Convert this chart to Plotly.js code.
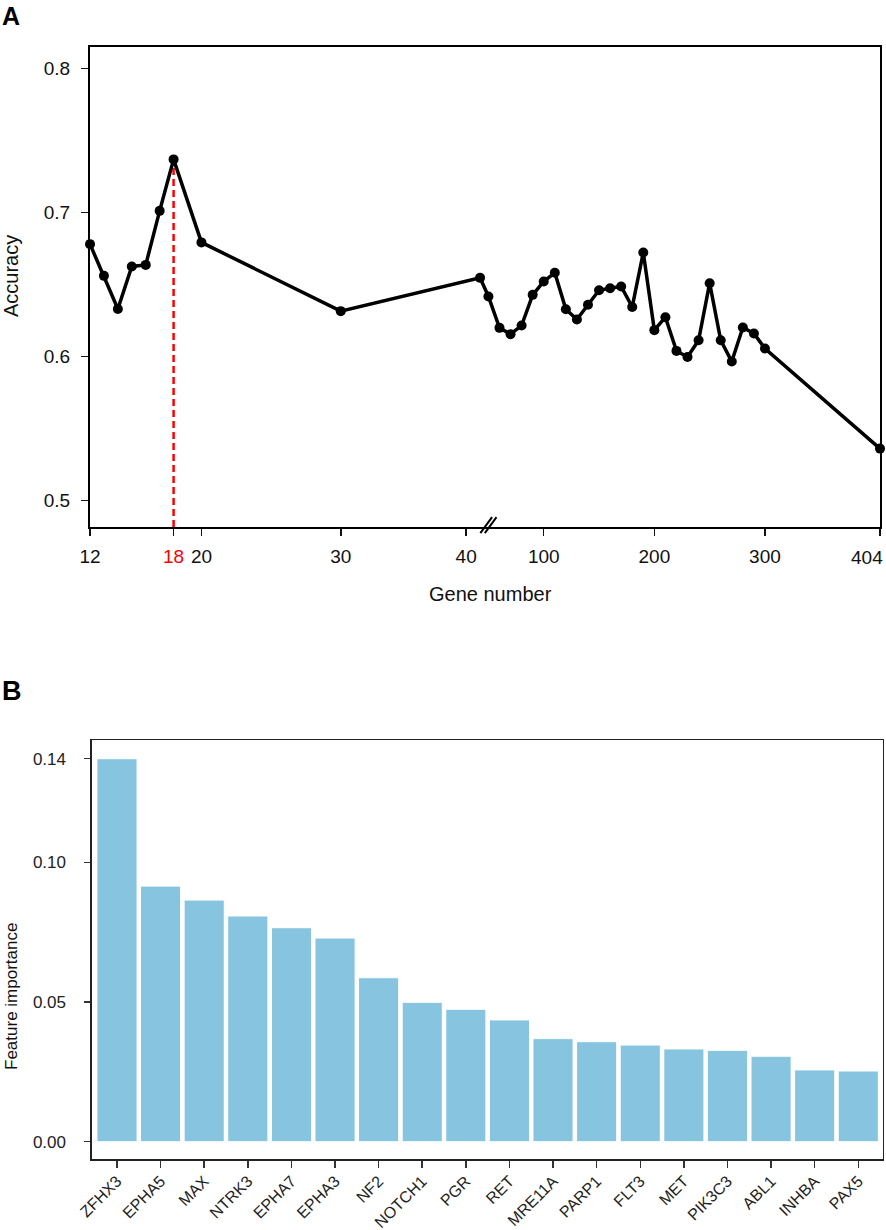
<!DOCTYPE html>
<html>
<head>
<meta charset="utf-8">
<script src="https://cdn.plot.ly/plotly-3.0.1.min.js"></script>
<style>
  html, body { margin: 0; padding: 0; background: #fff; }
  #chart { width: 886px; height: 1230px; }
</style>
</head>
<body>
<div id="chart"></div>
<script>
// Panel A: accuracy for each number of genes kept
const geneCounts = [12, 13, 14, 15, 16, 17, 18, 20, 30, 40,
    50, 60, 70, 80, 90, 100, 110, 120, 130, 140, 150, 160, 170, 180, 190,
    200, 210, 220, 230, 240, 250, 260, 270, 280, 290, 300, 404];
const accuracy = [0.678, 0.656, 0.633, 0.6625, 0.6636, 0.7011, 0.7368, 0.6792, 0.6315, 0.6546,
    0.6417, 0.6199, 0.6155, 0.6215, 0.6428, 0.6521, 0.6581, 0.6328, 0.6257, 0.6359, 0.646, 0.6474, 0.6486, 0.6344, 0.6722,
    0.6183, 0.6273, 0.6039, 0.5997, 0.6113, 0.6509, 0.6113, 0.5965, 0.6201, 0.616, 0.6056, 0.5361];
const bestCount = 18;
const accTicks = [0.5, 0.6, 0.7, 0.8];
const geneTicks = [12, 18, 20, 30, 40, 100, 200, 300, 404];

// Panel B: feature importance of the selected genes
const genes = ["ZFHX3", "EPHA5", "MAX", "NTRK3", "EPHA7", "EPHA3", "NF2", "NOTCH1", "PGR",
    "RET", "MRE11A", "PARP1", "FLT3", "MET", "PIK3C3", "ABL1", "INHBA", "PAX5"];
const importance = [0.1371, 0.0915, 0.0865, 0.0808, 0.0766, 0.0729, 0.0587, 0.0499, 0.0474,
    0.0436, 0.0369, 0.0358, 0.0346, 0.0332, 0.0327, 0.0306, 0.0257, 0.0253];
const impTicks = [0, 0.05, 0.10, Math.max(...importance)];

// Broken x axis: linear up to 40, then a squeezed linear segment from 50 on.
const BREAK_LO = 40, BREAK_HI = 50;
const BREAK_AT = 40.6;
const SQUEEZE = 0.0794;
const axisPos = g => g <= BREAK_LO ? g : BREAK_AT + (g - BREAK_HI) * SQUEEZE;

const W = 886, H = 1230;
const FONT = "Liberation Sans, Arial, sans-serif";
const xRangeA = [12, axisPos(404)];
const yRangeA = [0.4817, 0.8146];
const lastCount = geneCounts[geneCounts.length - 1];

// the original draws its "40" tick one unit left of the 40 point;
// the last label sits against the page edge, so it is an annotation below
const tickPos = geneTicks.map(g => g === 40 ? 39 : axisPos(g));
const tickText = geneTicks.map(g => {
    if (g === bestCount) return `<span style="color:#ff0000">${g}</span>`;
    if (g === lastCount) return "";
    return String(g);
});

const bestAcc = accuracy[geneCounts.indexOf(bestCount)];

const traces = [{
    type: "scatter", mode: "lines",
    x: [axisPos(bestCount), axisPos(bestCount)],
    y: [yRangeA[0], bestAcc],
    line: { color: "#ff0000", width: 2.5, dash: "7px,4px" },
    xaxis: "x", yaxis: "y",
}, {
    type: "scatter", mode: "lines+markers",
    x: geneCounts.map(axisPos), y: accuracy,
    line: { color: "#000", width: 3.5 },
    marker: { color: "#000", size: 10 },
    cliponaxis: false,
    xaxis: "x", yaxis: "y",
}, {
    type: "bar",
    x: genes, y: importance,
    marker: { color: "#86c4e0", line: { color: "#fff", width: 1 } },
    xaxis: "x2", yaxis: "y2",
}];

// break mark "//" on panel A's x axis, in domain units so it is not clipped
const toDomX = p => (p - xRangeA[0]) / (xRangeA[1] - xRangeA[0]);
const toDomY = v => (v - yRangeA[0]) / (yRangeA[1] - yRangeA[0]);
const breakShapes = [-0.16, 0.16].map(d => ({
    type: "line", xref: "x domain", yref: "y domain",
    x0: toDomX(BREAK_AT + d - 0.42), x1: toDomX(BREAK_AT + d + 0.42),
    y0: toDomY(yRangeA[0] - 0.0042), y1: toDomY(yRangeA[0] + 0.0069),
    line: { color: "#000", width: 2 },
}));

const axisBase = {
    showgrid: false, zeroline: false, showline: true, mirror: true,
    ticks: "outside", fixedrange: true, ticklabeloverflow: "allow",
};

const layout = {
    width: W, height: H,
    margin: { l: 0, r: 0, t: 0, b: 0 },
    paper_bgcolor: "#fff", plot_bgcolor: "#fff",
    showlegend: false,
    font: { family: FONT, color: "#111" },
    xaxis: {
        ...axisBase, anchor: "y",
        domain: [90 / W, 880 / W], range: xRangeA,
        tickmode: "array", tickvals: tickPos, ticktext: tickText,
        ticklen: 7, tickwidth: 1.5, tickcolor: "#111",
        linecolor: "#000", linewidth: 2,
        tickfont: { size: 19, color: "#111" }, ticklabelstandoff: 4,
    },
    yaxis: {
        ...axisBase, anchor: "x",
        domain: [1 - 527 / H, 1 - 47.3 / H], range: yRangeA,
        tickmode: "array", tickvals: accTicks, ticktext: accTicks.map(String),
        ticklen: 7, tickwidth: 1.5, tickcolor: "#111",
        linecolor: "#000", linewidth: 2,
        tickfont: { size: 19, color: "#111" }, ticklabelstandoff: 7,
    },
    xaxis2: {
        ...axisBase, anchor: "y2", type: "category",
        domain: [91.7 / W, 882.7 / W], range: [-0.58, 17.56],
        tickangle: -45,
        ticklen: 7, tickwidth: 1.5, tickcolor: "#333",
        linecolor: "#222", linewidth: 1.3,
        tickfont: { size: 16, color: "#222" }, ticklabelstandoff: -2,
    },
    yaxis2: {
        ...axisBase, anchor: "x2",
        domain: [1 - 1159.3 / H, 1 - 740 / H], range: [-0.0063, 0.1438],
        tickmode: "array", tickvals: impTicks, ticktext: impTicks.map(v => v.toFixed(2)),
        ticklen: 6, tickwidth: 1.5, tickcolor: "#333",
        linecolor: "#222", linewidth: 1.3,
        tickfont: { size: 17, color: "#222" }, ticklabelstandoff: 15,
    },
    bargap: 0.08,
    shapes: breakShapes,
    annotations: [
        { text: "<b>A</b>", x: 0, y: 1 - 16 / H, xanchor: "left", yanchor: "middle",
            font: { size: 25, color: "#000" } },
        { text: "<b>B</b>", x: 0, y: 1 - 691 / H, xanchor: "left", yanchor: "middle",
            font: { size: 27, color: "#000" } },
        { text: String(lastCount), x: 885 / W, y: 1 - 557 / H, xanchor: "right", yanchor: "middle",
            font: { size: 19, color: "#111" } },
        { text: "Accuracy", textangle: -90, x: 11 / W, y: 1 - 276 / H,
            xanchor: "center", yanchor: "middle", font: { size: 20, color: "#111" } },
        { text: "Gene number", x: 490 / W, y: 1 - 594 / H,
            xanchor: "center", yanchor: "middle", font: { size: 20, color: "#111" } },
        { text: "Feature importance", textangle: -90, x: 11 / W, y: 1 - 997 / H,
            xanchor: "center", yanchor: "middle", font: { size: 17, color: "#111" } },
    ].map(a => ({ ...a, xref: "paper", yref: "paper", showarrow: false })),
};

Plotly.newPlot("chart", traces, layout, { staticPlot: true, displayModeBar: false });
</script>
</body>
</html>
